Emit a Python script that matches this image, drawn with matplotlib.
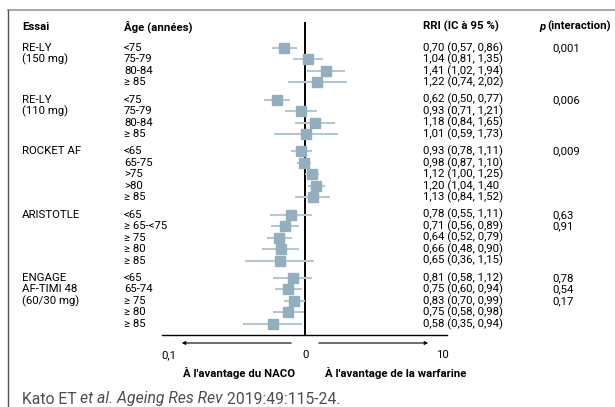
import matplotlib
matplotlib.use("Agg")
import matplotlib.pyplot as plt
from matplotlib import transforms
from matplotlib.lines import Line2D

# --- data ---------------------------------------------------------------
trials = [["RE-LY", "(150 mg)"], ["RE-LY", "(110 mg)"], ["ROCKET AF"],
          ["ARISTOTLE"], ["ENGAGE", "AF-TIMI 48", "(60/30 mg)"]]
ages = [["<75", "75-79", "80-84", "≥ 85"],
        ["<75", "75-79", "80-84", "≥ 85"],
        ["<65", "65-75", ">75", ">80", "≥ 85"],
        ["<65", "≥ 65-<75", "≥ 75", "≥ 80", "≥ 85"],
        ["<65", "65-74", "≥ 75", "≥ 80", "≥ 85"]]
hr = [[0.70, 1.04, 1.41, 1.22],
      [0.62, 0.93, 1.18, 1.01],
      [0.93, 0.98, 1.12, 1.20, 1.13],
      [0.78, 0.71, 0.64, 0.66, 0.65],
      [0.81, 0.75, 0.83, 0.75, 0.58]]
lo = [[0.57, 0.81, 1.02, 0.74],
      [0.50, 0.71, 0.84, 0.59],
      [0.78, 0.87, 1.00, 1.04, 0.84],
      [0.55, 0.56, 0.52, 0.48, 0.36],
      [0.58, 0.60, 0.70, 0.58, 0.35]]
hi = [[0.86, 1.35, 1.94, 2.02],
      [0.77, 1.21, 1.65, 1.73],
      [1.11, 1.10, 1.25, 1.40, 1.52],
      [1.11, 0.89, 0.79, 0.90, 1.15],
      [1.12, 0.94, 0.99, 0.98, 0.94]]
rri_labels = [["0,70 (0,57, 0,86)", "1,04 (0,81, 1,35)", "1,41 (1,02, 1,94)", "1,22 (0,74, 2,02)"],
              ["0,62 (0,50, 0,77)", "0,93 (0,71, 1,21)", "1,18 (0,84, 1,65)", "1,01 (0,59, 1,73)"],
              ["0,93 (0,78, 1,11)", "0,98 (0,87, 1,10)", "1,12 (1,00, 1,25)", "1,20 (1,04, 1,40",
               "1,13 (0,84, 1,52)"],
              ["0,78 (0,55, 1,11)", "0,71 (0,56, 0,89)", "0,64 (0,52, 0,79)", "0,66 (0,48, 0,90)",
               "0,65 (0,36, 1,15)"],
              ["0,81 (0,58, 1,12)", "0,75 (0,60, 0,94)", "0,83 (0,70, 0,99)", "0,75 (0,58, 0,98)",
               "0,58 (0,35, 0,94)"]]
p_values = [["0,001"], ["0,006"], ["0,009"], ["0,63", "0,91"], ["0,78", "0,54", "0,17"]]
xticks = [0.1, 1, 10]
xtick_labels = ["0,1", "0", "10"]

W, H = 615, 407
MARK = "#93aebd"
CI = "#b3c8d2"

plt.rcParams["font.family"] = ["Roboto", "DejaVu Sans"]

fig = plt.figure(figsize=(W / 100, H / 100), dpi=100)
ax = fig.add_axes([162 / W, 1 - 335 / H, 285 / W, (335 - 22) / H])
ax.set_xscale("log")
ax.set_xlim(0.0889, 10.88)

# row positions: one unit per row, 1.5 between groups
rows = []
y = 0.0
for g in hr:
    rows.append([y + i for i in range(len(g))])
    y += len(g) + 0.5
ax.set_ylim(24.96, -2.26)

ax.axvline(1, color="black", lw=1.4, zorder=1)
for g in range(len(hr)):
    for r, h, l, u in zip(rows[g], hr[g], lo[g], hi[g]):
        ax.plot([l, u], [r, r], color=CI, lw=1.5, zorder=2, solid_capstyle="butt")
        ax.plot(h, r, "s", ms=7.2, color=MARK, mec=MARK, zorder=3)

for s in ["top", "left", "right"]:
    ax.spines[s].set_visible(False)
ax.spines["bottom"].set_linewidth(1.0)
ax.set_yticks([])
ax.set_xticks(xticks)
ax.set_xticklabels(xtick_labels)
ax.xaxis.set_minor_locator(plt.NullLocator())
fs = 8.2
ax.tick_params(axis="x", length=0, pad=11, labelsize=fs)

# text columns
tr = transforms.blended_transform_factory(fig.transFigure, ax.transData)
hy = -1.85
ax.text(22 / W, hy, "Essai", transform=tr, fontsize=fs, weight="bold", va="center")
ax.text(124 / W, hy, "Âge (années)", transform=tr, fontsize=fs, weight="bold", va="center")
ax.text(423 / W, hy, "RRI (IC à 95 %)", transform=tr, fontsize=fs, weight="bold", va="center")
ax.text(539 / W, hy, "p", transform=tr, fontsize=fs, weight="bold", style="italic", va="center")
ax.text(547 / W, hy, "(interaction)", transform=tr, fontsize=fs, weight="bold", va="center")

for g in range(len(hr)):
    for r, line in zip(rows[g], trials[g]):
        ax.text(22 / W, r, line, transform=tr, fontsize=fs, va="center")
    for r, a in zip(rows[g], ages[g]):
        ax.text(124 / W, r, a, transform=tr, fontsize=fs, va="center")
    for r, t in zip(rows[g], rri_labels[g]):
        ax.text(423 / W, r, t, transform=tr, fontsize=fs, va="center")
    for r, p in zip(rows[g], p_values[g]):
        ax.text(552 / W, r, p, transform=tr, fontsize=fs, va="center")

# direction arrows and captions
ay = -8 / 313
ax.annotate("", xy=(17 / 285, ay), xytext=(132 / 285, ay), xycoords="axes fraction",
            arrowprops=dict(arrowstyle="-|>", color="black", lw=0.8, mutation_scale=5),
            annotation_clip=False)
ax.annotate("", xy=(269 / 285, ay), xytext=(154 / 285, ay), xycoords="axes fraction",
            arrowprops=dict(arrowstyle="-|>", color="black", lw=0.8, mutation_scale=5),
            annotation_clip=False)
fig.text(295 / W, 1 - 373 / H, "À l'avantage du NACO", fontsize=fs, weight="bold",
         ha="right", va="center")
fig.text(325 / W, 1 - 373 / H, "À l'avantage de la warfarine", fontsize=fs, weight="bold",
         ha="left", va="center")

# frame
fig.add_artist(Line2D([8 / W, 1], [1 - 10 / H] * 2, color="#9a9a9a", lw=1.2))
fig.add_artist(Line2D([8 / W] * 2, [0, 1 - 10 / H], color="#555555", lw=1.0))

# citation in mixed styles
renderer = fig.canvas.get_renderer()
cx = 22
for part, st in [("Kato ET ", "normal"), ("et al. Ageing Res Rev", "italic"),
                 (" 2019:49:115-24.", "normal")]:
    t = fig.text(cx / W, 1 - 399 / H, part, fontsize=11.3, style=st,
                 color="#4d4d4d", va="center")
    cx += t.get_window_extent(renderer).width

fig.savefig("out.png", dpi=100)
